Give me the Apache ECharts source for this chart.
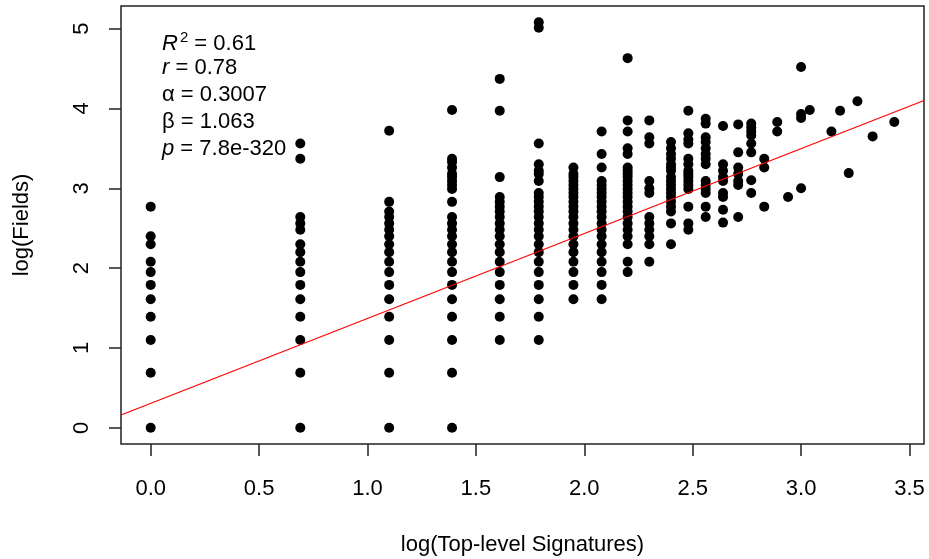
<!DOCTYPE html>
<html>
<head>
<meta charset="utf-8">
<script src="https://cdn.jsdelivr.net/npm/echarts@6/dist/echarts.min.js"></script>
<style>
html,body{margin:0;padding:0;background:#fff;}
#chart{width:929px;height:559px;}
</style>
</head>
<body>
<div id="chart"></div>
<script>
// x positions of the point columns: log(Top-level Signatures)
const colX = [0, 0.69, 1.10, 1.39, 1.61, 1.79, 1.95, 2.08, 2.20, 2.30, 2.40, 2.48, 2.56, 2.64, 2.71, 2.77, 2.83, 2.89, 2.94, 3.00, 3.04, 3.14, 3.18, 3.22, 3.26, 3.33, 3.43];
// y values log(Fields) for each column
const colY = [
  [2.77, 2.40, 2.30, 2.08, 1.95, 1.79, 1.61, 1.39, 1.10, 0.69, 0],
  [3.56, 3.37, 2.64, 2.56, 2.48, 2.30, 2.20, 2.08, 1.95, 1.79, 1.61, 1.39, 1.10, 0.69, 0],
  [3.72, 2.83, 2.71, 2.64, 2.56, 2.48, 2.40, 2.30, 2.20, 2.08, 1.95, 1.79, 1.61, 1.39, 1.10, 0.69, 0],
  [3.98, 3.37, 3.33, 3.26, 3.18, 3.14, 3.09, 3.04, 2.99, 2.83, 2.64, 2.56, 2.48, 2.40, 2.30, 2.20, 2.08, 1.95, 1.79, 1.61, 1.39, 1.10, 0.69, 0],
  [4.37, 3.97, 3.14, 2.89, 2.83, 2.77, 2.71, 2.64, 2.56, 2.48, 2.40, 2.30, 2.20, 2.08, 1.95, 1.79, 1.61, 1.39, 1.10],
  [5.08, 5.01, 3.56, 3.30, 3.22, 3.18, 3.09, 2.94, 2.89, 2.83, 2.77, 2.71, 2.64, 2.56, 2.48, 2.40, 2.30, 2.20, 2.08, 1.95, 1.79, 1.61, 1.39, 1.10],
  [3.26, 3.18, 3.14, 3.09, 3.04, 2.99, 2.94, 2.89, 2.83, 2.77, 2.71, 2.64, 2.56, 2.48, 2.40, 2.30, 2.20, 2.08, 1.95, 1.79, 1.61],
  [3.71, 3.43, 3.26, 3.09, 3.04, 2.99, 2.94, 2.89, 2.83, 2.77, 2.71, 2.64, 2.56, 2.48, 2.40, 2.30, 2.20, 2.08, 1.95, 1.79, 1.61],
  [4.63, 3.85, 3.71, 3.50, 3.43, 3.26, 3.22, 3.18, 3.14, 3.09, 3.04, 2.99, 2.94, 2.89, 2.83, 2.77, 2.71, 2.64, 2.56, 2.48, 2.40, 2.30, 2.08, 1.95],
  [3.85, 3.64, 3.56, 3.09, 3.00, 2.94, 2.64, 2.56, 2.48, 2.40, 2.30, 2.08],
  [3.58, 3.50, 3.43, 3.37, 3.30, 3.26, 3.22, 3.14, 3.09, 3.04, 2.99, 2.94, 2.89, 2.83, 2.77, 2.71, 2.56, 2.30],
  [3.97, 3.69, 3.61, 3.56, 3.37, 3.30, 3.22, 3.18, 3.14, 3.09, 3.04, 2.99, 2.77, 2.56, 2.48],
  [3.87, 3.81, 3.64, 3.58, 3.50, 3.43, 3.37, 3.30, 3.09, 3.04, 2.99, 2.94, 2.77, 2.64],
  [3.78, 3.30, 3.22, 3.14, 3.09, 2.94, 2.89, 2.73, 2.57],
  [3.80, 3.45, 3.26, 3.18, 3.09, 3.04, 2.64],
  [3.81, 3.76, 3.71, 3.66, 3.56, 3.45, 3.10, 2.94],
  [3.37, 3.26, 2.77],
  [3.83, 3.71],
  [2.89],
  [4.52, 3.93, 3.88, 3.00],
  [3.98],
  [3.71],
  [3.97],
  [3.19],
  [4.09],
  [3.65],
  [3.83]
];
// fitted line, read at the left and right plot edges
const fitX = [-0.137, 3.567];
const fitY = [0.16, 4.10];
// axis limits and ticks
const xLimits = [-0.137, 3.567];
const yLimits = [-0.203, 5.283];
const xTicks = [0, 0.5, 1.0, 1.5, 2.0, 2.5, 3.0, 3.5];
const yTicks = [0, 1, 2, 3, 4, 5];
// annotation text
const statLabels = [
  ['R', '2', ' = 0.61'],
  ['r', '', ' = 0.78'],
  ['α', '', ' = 0.3007'],
  ['β', '', ' = 1.063'],
  ['p', '', ' = 7.8e-320']
];

const points = [];
colX.forEach((x, i) => colY[i].forEach(y => points.push([x, y])));
const fitLine = fitX.map((x, i) => [x, fitY[i]]);

const FONT = 'Liberation Sans';
const chart = echarts.init(document.getElementById('chart'), null, {renderer: 'canvas'});

const lineTops = [30, 57, 84, 111, 138];
const graphics = statLabels.map((s, i) => {
  const italic = (s[0] === 'R' || s[0] === 'r' || s[0] === 'p');
  return {
    type: 'text',
    left: 162,
    top: lineTops[i],
    z: 100,
    style: {
      text: '{a|' + s[0] + '}' + (s[1] ? '{s|' + s[1] + '}' : '') + '{b|' + s[2] + '}',
      rich: {
        a: {fontFamily: FONT, fontSize: 22, fontStyle: italic ? 'italic' : 'normal', fill: '#000', verticalAlign: 'bottom'},
        s: {fontFamily: FONT, fontSize: 15, fill: '#000', verticalAlign: 'top', padding: [0, 0, 10, 2]},
        b: {fontFamily: FONT, fontSize: 22, fill: '#000', verticalAlign: 'bottom'}
      }
    }
  };
});

chart.setOption({
  animation: false,
  backgroundColor: '#fff',
  grid: {left: 121, right: 5, top: 6, bottom: 115, show: true, borderColor: '#222', borderWidth: 1.5,
    backgroundColor: 'transparent', containLabel: false, outerBoundsMode: 'none'},
  xAxis: {
    type: 'value', min: xLimits[0], max: xLimits[1],
    name: 'log(Top-level Signatures)', nameLocation: 'middle', nameGap: 90,
    nameTextStyle: {fontFamily: FONT, fontSize: 22, color: '#000'},
    axisLine: {show: false, onZero: false},
    axisTick: {show: true, length: 12, inside: false, customValues: xTicks, lineStyle: {color: '#222', width: 1.5}},
    axisLabel: {show: true, customValues: xTicks, margin: 34, fontFamily: FONT, fontSize: 22, color: '#000',
      formatter: v => v.toFixed(1)},
    splitLine: {show: false}
  },
  yAxis: {
    type: 'value', min: yLimits[0], max: yLimits[1],
    name: 'log(Fields)', nameLocation: 'middle', nameGap: 88, nameRotate: 90,
    nameTextStyle: {fontFamily: FONT, fontSize: 22, color: '#000'},
    axisLine: {show: false, onZero: false},
    axisTick: {show: true, length: 12, inside: false, customValues: yTicks, lineStyle: {color: '#222', width: 1.5}},
    axisLabel: {show: true, customValues: yTicks, margin: 28, rotate: 90, fontFamily: FONT, fontSize: 22, color: '#000'},
    splitLine: {show: false}
  },
  graphic: graphics,
  series: [
    {
      type: 'scatter', data: points, symbol: 'circle', symbolSize: 10,
      itemStyle: {color: '#000', opacity: 1}, z: 2
    },
    {
      type: 'line', data: fitLine, symbol: 'none', z: 5,
      lineStyle: {color: '#ff0000', width: 1.2}
    }
  ]
});
</script>
</body>
</html>
